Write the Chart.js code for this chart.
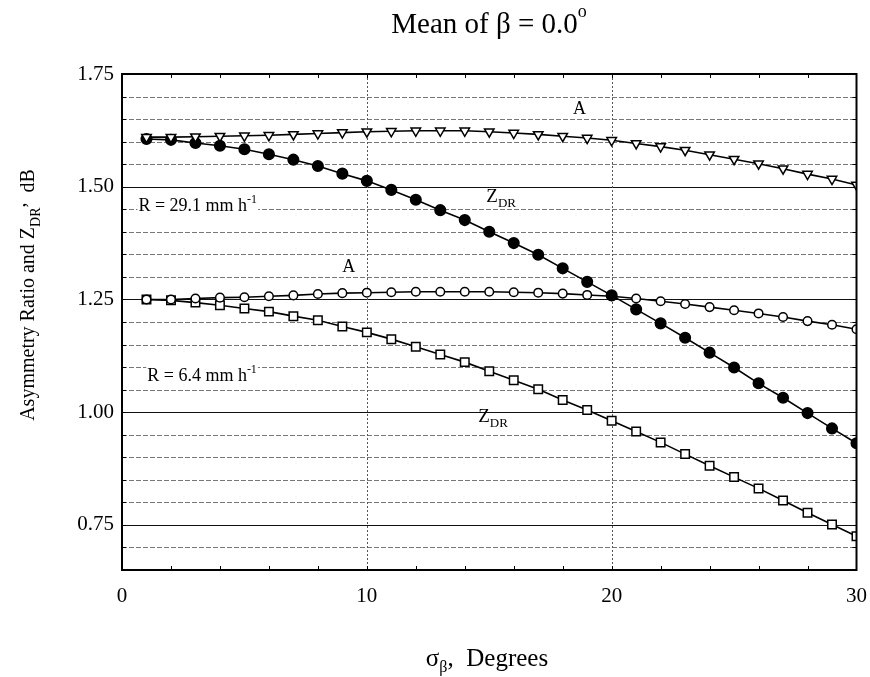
<!DOCTYPE html>
<html>
<head>
<meta charset="utf-8">
<script src="https://cdn.jsdelivr.net/npm/chart.js@4"></script>
<style>
html,body{margin:0;padding:0;background:#fff;}
#wrap{width:870px;height:677px;}
</style>
</head>
<body>
<div id="wrap"><canvas id="c" width="870" height="677"></canvas></div>
<script>
// ---- data ----
const sigmaBeta = [1,2,3,4,5,6,7,8,9,10,11,12,13,14,15,16,17,18,19,20,21,22,23,24,25,26,27,28,29,30];
// R = 29.1 mm/h
const asymHigh = [1.610,1.610,1.611,1.612,1.613,1.614,1.616,1.618,1.620,1.622,1.623,1.624,1.624,1.624,1.622,1.619,1.616,1.612,1.608,1.603,1.596,1.589,1.581,1.571,1.561,1.551,1.540,1.528,1.517,1.504];
const zdrHigh  = [1.606,1.604,1.597,1.591,1.583,1.572,1.560,1.546,1.529,1.513,1.493,1.471,1.448,1.426,1.400,1.375,1.349,1.319,1.289,1.259,1.228,1.197,1.165,1.132,1.099,1.064,1.032,0.998,0.964,0.931];
// R = 6.4 mm/h
const asymLow  = [1.250,1.250,1.252,1.254,1.255,1.257,1.259,1.262,1.264,1.265,1.266,1.267,1.267,1.267,1.267,1.266,1.265,1.263,1.260,1.257,1.252,1.246,1.240,1.233,1.226,1.219,1.211,1.202,1.194,1.184];
const zdrLow   = [1.250,1.248,1.243,1.237,1.230,1.223,1.213,1.204,1.190,1.177,1.162,1.145,1.128,1.111,1.091,1.071,1.051,1.027,1.005,0.981,0.957,0.933,0.907,0.881,0.856,0.831,0.804,0.777,0.751,0.725];
const xTicks = [0,10,20,30];
const yTicks = [0.75,1.00,1.25,1.50,1.75];
const xRange = [0,30];
const yRange = [0.65,1.75];

const SERIF = '"Liberation Serif","Times New Roman",serif';
Chart.defaults.font.family = SERIF;
Chart.defaults.color = '#000';

function pts(ys){ return sigmaBeta.map((x,i)=>({x:x,y:ys[i]})); }

// ---- grid / frame plugin ----
const framePlugin = {
  id:'frame',
  beforeDatasetsDraw(chart){
    const ctx = chart.ctx, xa = chart.scales.x, ya = chart.scales.y, ca = chart.chartArea;
    ctx.save();
    for (let k=1;k<22;k++){
      const v = Math.round((yRange[0]+k*0.05)*100)/100;
      const py = Math.round(ya.getPixelForValue(v))+0.5;
      const major = Math.abs(v*4-Math.round(v*4))<1e-6;
      ctx.beginPath();
      if (major){ ctx.setLineDash([]); ctx.strokeStyle='#111'; ctx.lineWidth=1.2; }
      else { ctx.setLineDash([5,2]); ctx.strokeStyle='#777'; ctx.lineWidth=1; }
      ctx.moveTo(ca.left,py); ctx.lineTo(ca.right,py); ctx.stroke();
      ctx.setLineDash([]); ctx.strokeStyle='#000'; ctx.lineWidth=1;
      ctx.beginPath();
      ctx.moveTo(ca.left,py); ctx.lineTo(ca.left+4,py);
      ctx.moveTo(ca.right,py); ctx.lineTo(ca.right-4,py);
      ctx.stroke();
    }
    [10,20].forEach(v=>{
      const px = Math.round(xa.getPixelForValue(v))+0.5;
      ctx.beginPath(); ctx.setLineDash([2,2]); ctx.strokeStyle='#555'; ctx.lineWidth=1;
      ctx.moveTo(px,ca.top); ctx.lineTo(px,ca.bottom); ctx.stroke();
    });
    ctx.setLineDash([]); ctx.strokeStyle='#000'; ctx.lineWidth=1;
    ctx.beginPath();
    for (let v=2; v<30; v+=2){
      const px = Math.round(xa.getPixelForValue(v))+0.5;
      ctx.moveTo(px,ca.top); ctx.lineTo(px,ca.top+4);
      ctx.moveTo(px,ca.bottom); ctx.lineTo(px,ca.bottom-4);
    }
    ctx.stroke();
    ctx.restore();
  },
  afterDatasetsDraw(chart){
    const ctx = chart.ctx, ca = chart.chartArea;
    ctx.save();
    ctx.strokeStyle='#000'; ctx.lineWidth=2;
    ctx.strokeRect(ca.left, ca.top, ca.right-ca.left, ca.bottom-ca.top);
    ctx.restore();
  }
};

// ---- text plugin ----
function runs(ctx, parts, x, y){
  let cx = x;
  parts.forEach(p=>{
    ctx.font = p.size+'px '+SERIF;
    ctx.fillText(p.t, cx, y+(p.dy||0));
    cx += ctx.measureText(p.t).width;
  });
  return cx-x;
}
function runsWidth(ctx, parts){
  let w=0;
  parts.forEach(p=>{ ctx.font=p.size+'px '+SERIF; w+=ctx.measureText(p.t).width; });
  return w;
}
const notes = [
  {x:18.42, y:1.662, parts:[{t:'A',size:18}]},
  {x:14.88, y:1.467, parts:[{t:'Z',size:19},{t:'DR',size:13,dy:5}]},
  {x:9.0,   y:1.310, parts:[{t:'A',size:18}]},
  {x:14.55, y:0.978, parts:[{t:'Z',size:19},{t:'DR',size:13,dy:5}]},
  {x:0.67,  y:1.447, bg:true, parts:[{t:'R = 29.1 mm h',size:18},{t:'-1',size:12,dy:-8}]},
  {x:1.03,  y:1.069, bg:true, parts:[{t:'R = 6.4 mm h',size:18},{t:'-1',size:12,dy:-8}]}
];
const textPlugin = {
  id:'texts',
  afterDatasetsDraw(chart){
    const ctx = chart.ctx, xa = chart.scales.x, ya = chart.scales.y;
    ctx.save();
    ctx.fillStyle='#000'; ctx.textBaseline='alphabetic'; ctx.textAlign='left';
    notes.forEach(n=>{
      const px = xa.getPixelForValue(n.x), py = ya.getPixelForValue(n.y);
      if (n.bg){
        const w = runsWidth(ctx,n.parts);
        ctx.fillStyle='#fff'; ctx.fillRect(px-1, py-17, w+2, 20); ctx.fillStyle='#000';
      }
      runs(ctx,n.parts,px,py);
    });
    ctx.restore();
  },
  afterDraw(chart){
    const ctx = chart.ctx;
    ctx.save();
    ctx.fillStyle='#000'; ctx.textBaseline='alphabetic'; ctx.textAlign='left';
    const tParts=[{t:'Mean of β = 0.0',size:29},{t:'o',size:18,dy:-16}];
    const tw = runsWidth(ctx,tParts);
    runs(ctx,tParts,489-tw/2,33);
    const xParts=[{t:'σ',size:25},{t:'β',size:16,dy:6},{t:',  Degrees',size:25}];
    const xw = runsWidth(ctx,xParts);
    runs(ctx,xParts,487-xw/2,666);
    ctx.translate(34,295); ctx.rotate(-Math.PI/2);
    const yParts=[{t:'Asymmetry Ratio and Z',size:20},{t:'DR',size:14,dy:6},{t:',',size:20,dy:-9},{t:'  dB',size:20}];
    const yw = runsWidth(ctx,yParts);
    runs(ctx,yParts,-yw/2,0);
    ctx.restore();
  }
};

const common = {borderColor:'#000', borderWidth:1.6, tension:0, showLine:true, pointBorderWidth:1.5, pointBorderColor:'#000', clip:0};

new Chart(document.getElementById('c'), {
  type:'scatter',
  data:{ datasets:[
    Object.assign({label:'A (R = 29.1)', data:pts(asymHigh), pointStyle:'triangle', rotation:180, pointRadius:5.5, pointBackgroundColor:'#fff'}, common),
    Object.assign({label:'ZDR (R = 29.1)', data:pts(zdrHigh), pointStyle:'circle', pointRadius:5.3, pointBackgroundColor:'#000'}, common),
    Object.assign({label:'A (R = 6.4)', data:pts(asymLow), pointStyle:'circle', pointRadius:4.3, pointBackgroundColor:'#fff'}, common),
    Object.assign({label:'ZDR (R = 6.4)', data:pts(zdrLow), pointStyle:'rect', pointRadius:6, pointBackgroundColor:'#fff'}, common)
  ]},
  options:{
    responsive:false, animation:false, devicePixelRatio:1,
    layout:{padding:{top:74,right:13.5,bottom:0,left:0}},
    plugins:{legend:{display:false}, tooltip:{enabled:false}, title:{display:false}},
    scales:{
      x:{type:'linear', min:xRange[0], max:xRange[1],
        afterBuildTicks:s=>{ s.ticks = xTicks.map(v=>({value:v})); },
        afterFit:s=>{ s.height = 107; s.paddingLeft = 0; s.paddingRight = 0; },
        grid:{display:false, drawTicks:false}, border:{display:false},
        ticks:{font:{size:21}, color:'#000', padding:14, maxRotation:0, callback:v=>String(v)}
      },
      y:{type:'linear', min:yRange[0], max:yRange[1],
        afterBuildTicks:s=>{ s.ticks = yTicks.map(v=>({value:v})); },
        afterFit:s=>{ s.width = 122; s.paddingTop = 0; s.paddingBottom = 0; },
        grid:{display:false, drawTicks:false}, border:{display:false},
        ticks:{font:{size:21}, color:'#000', padding:8, callback:v=>Number(v).toFixed(2)}
      }
    }
  },
  plugins:[framePlugin,textPlugin]
});
</script>
</body>
</html>
